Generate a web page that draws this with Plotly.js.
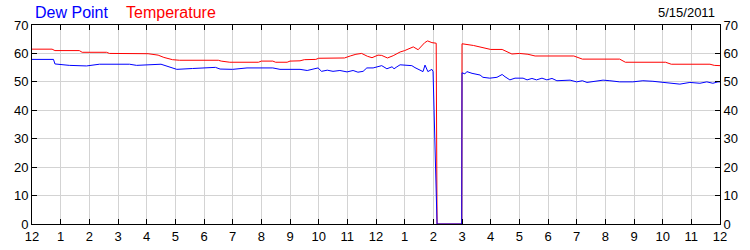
<!DOCTYPE html>
<html>
<head>
<meta charset="utf-8">
<script src="https://cdn.plot.ly/plotly-3.0.1.min.js"></script>
<style>
html,body{margin:0;padding:0;background:#fff;}
#chart{width:750px;height:250px;}
</style>
</head>
<body>
<div id="chart"></div>
<script>
// Hours since midnight (0..24) and readings
const tempHours = [0,0.7,0.8,1.65,1.75,2.6,2.7,4.05,4.4,4.6,4.9,5.15,6.5,6.6,6.9,7.9,8.0,8.4,8.5,8.9,9.0,9.35,9.5,9.9,10.0,10.9,11.1,11.3,11.5,11.7,11.86,12.07,12.2,12.4,12.6,12.84,13.0,13.3,13.47,13.7,13.8,13.95,14.1,14.13,14.99,15.0,15.4,15.6,15.8,16.0,16.4,16.74,17.0,17.3,17.55,18.9,19.2,20.5,20.7,22.1,22.3,23.65,23.8,24];
const tempValues = [61.5,61.5,61.0,61.0,60.4,60.4,60.0,59.9,59.4,58.6,57.8,57.6,57.6,57.3,56.9,56.9,57.3,57.3,56.9,56.9,57.3,57.4,57.8,57.9,58.3,58.4,59.1,59.7,60.0,59.0,58.5,59.4,59.3,58.4,59.2,60.5,61.0,62.3,61.3,63.8,64.4,63.8,63.6,0,0,63.4,62.8,62.4,61.8,61.4,61.4,59.8,60.0,59.7,59.1,59.1,58.0,58.0,56.9,56.9,56.2,56.2,55.8,55.7];

const dewHours = [0,0.75,0.8,1.3,1.9,2.35,3.4,3.65,4.5,4.7,5.05,5.6,6.1,6.4,6.56,7.0,7.5,8.4,8.65,9.35,9.6,9.98,10.1,10.3,10.5,10.74,10.99,11.2,11.37,11.55,11.68,11.9,12.2,12.38,12.56,12.63,12.73,12.84,13.25,13.36,13.64,13.71,13.81,13.95,13.99,14.13,14.99,15.0,15.1,15.17,15.35,15.63,15.73,15.97,16.22,16.4,16.5,16.67,16.85,17.13,17.27,17.44,17.6,17.79,17.96,18.14,18.31,18.77,19.0,19.2,19.36,19.92,20.16,20.5,20.96,21.31,21.66,21.97,22.6,22.95,23.3,23.54,23.75,23.93,24];
const dewValues = [57.9,57.9,56.3,55.8,55.6,56.2,56.2,55.8,56.2,55.6,54.4,54.7,55.1,55.1,54.5,54.4,54.9,54.9,54.4,54.4,54.0,54.9,53.7,54.1,53.7,54.0,53.5,54.0,53.4,53.7,54.9,54.9,55.7,54.6,55.3,54.6,55.3,56.0,55.7,55.0,53.6,55.9,53.6,54.4,53.6,0,0,53.2,52.8,53.6,53.0,52.4,51.6,51.3,51.6,52.6,51.8,50.7,51.3,51.3,50.7,51.2,50.7,51.3,50.7,51.2,50.4,50.6,50.0,50.4,49.8,50.6,50.4,50.0,50.0,50.4,50.2,49.8,49.2,49.8,49.5,50.0,49.5,50.0,50.0];

const hourTickVals = [0,1,2,3,4,5,6,7,8,9,10,11,12,13,14,15,16,17,18,19,20,21,22,23,24];
const hourTickText = ['12','1','2','3','4','5','6','7','8','9','10','11','12','1','2','3','4','5','6','7','8','9','10','11','12'];
const yTickVals = [0,10,20,30,40,50,60,70];
const dateLabel = '5/15/2011';

const font = {family:'Liberation Sans, Arial, sans-serif', size:13, color:'#000'};

const traces = [
  {x: tempHours, y: tempValues, type:'scatter', mode:'lines', line:{color:'#ff0000', width:1}, hoverinfo:'skip'},
  {x: dewHours, y: dewValues, type:'scatter', mode:'lines', line:{color:'#0000ff', width:1}, hoverinfo:'skip', yaxis:'y2'}
];

const layout = {
  width:750, height:250,
  margin:{l:32, r:30, t:25, b:26, pad:0},
  paper_bgcolor:'#fff', plot_bgcolor:'#fff',
  showlegend:false,
  font: font,
  xaxis:{
    range:[0,24], tickvals:hourTickVals, ticktext:hourTickText,
    showgrid:true, gridcolor:'#d3d3d3', gridwidth:1,
    showline:true, linecolor:'#000', linewidth:1, mirror:'ticks',
    ticks:'inside', ticklen:5, tickcolor:'#000', tickfont:font, zeroline:false, fixedrange:true
  },
  yaxis:{
    range:[0,70], tickvals:yTickVals,
    showgrid:true, gridcolor:'#d3d3d3', gridwidth:1,
    showline:true, linecolor:'#000', linewidth:1,
    ticks:'inside', ticklen:5, tickcolor:'#000', tickfont:font, zeroline:false, fixedrange:true
  },
  yaxis2:{
    range:[0,70], tickvals:yTickVals, overlaying:'y', side:'right',
    showgrid:false, showline:true, linecolor:'#000', linewidth:1,
    ticks:'inside', ticklen:5, tickcolor:'#000', tickfont:font, zeroline:false, fixedrange:true
  },
  annotations:[
    {text:'Dew Point', xref:'paper', yref:'paper', x:0.0015, y:1.062, xanchor:'left', yanchor:'middle', showarrow:false, font:{family:'Liberation Sans, Arial, sans-serif', size:16, color:'#0000ff'}},
    {text:'Temperature', xref:'paper', yref:'paper', x:0.134, y:1.062, xanchor:'left', yanchor:'middle', showarrow:false, font:{family:'Liberation Sans, Arial, sans-serif', size:16, color:'#ff0000'}},
    {text:dateLabel, xref:'paper', yref:'paper', x:(717-32)/688, y:1.062, xanchor:'right', yanchor:'middle', showarrow:false, font:{family:'Liberation Sans, Arial, sans-serif', size:13, color:'#000'}}
  ]
};

Plotly.newPlot('chart', traces, layout, {staticPlot:true, displayModeBar:false});
</script>
</body>
</html>
